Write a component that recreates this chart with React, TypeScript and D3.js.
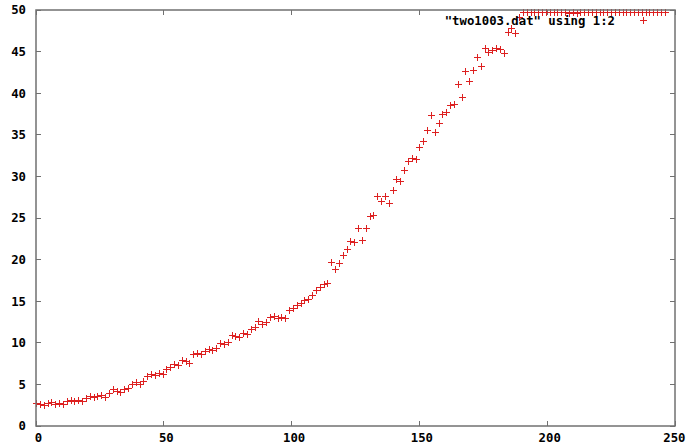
import React from "react";
import * as d3 from "d3";

const WIDTH = 686;
const HEIGHT = 446;

const xTicks = [0, 50, 100, 150, 200, 250];
const yTicks = [0, 5, 10, 15, 20, 25, 30, 35, 40, 45, 50];
const legendLabel = '"two1003.dat" using 1:2';

// column 1 of two1003.dat
const xs = [
  0, 1.5, 3, 4.5, 6, 7.5, 9, 10.5, 12, 13.5, 15, 16.5, 18, 19.5, 21, 22.5, 24, 25.5, 27, 28.5,
  30, 31.5, 33, 34.5, 36, 37.5, 39, 40.5, 42, 43.5, 45, 46.5, 48, 49.5, 51, 52.5, 54, 55.5, 57, 58.5,
  60, 61.5, 63, 64.5, 66, 67.5, 69, 70.5, 72, 73.5, 75, 76.5, 78, 79.5, 81, 82.5, 84, 85.5, 87, 88.5,
  90, 91.5, 93, 94.5, 96, 97.5, 99, 100.5, 102, 103.5, 105, 106.5, 108, 109.5, 111, 112.5, 114, 115.5, 117, 118.5,
  120, 121.5, 123, 124.5, 126, 127.5, 129, 130.5, 132, 133.5, 135, 136.5, 138, 139.5, 141, 142.5, 144, 145.5, 147, 148.5,
  150, 151.5, 153, 154.5, 156, 157.5, 159, 160.5, 162, 163.5, 165, 166.5, 168, 169.5, 171, 172.5, 174, 175.5, 177, 178.5,
  180, 181.5, 183, 184.5, 186, 187.5, 189, 190.5, 192, 193.5, 195, 196.5, 198, 199.5, 201, 202.5, 204, 205.5, 207, 208.5,
  210, 211.5, 213, 214.5, 216, 217.5, 219, 220.5, 222, 223.5, 225, 226.5, 228, 229.5, 231, 232.5, 234, 235.5, 237, 238.5,
  240, 241.5, 243, 244.5, 246, 247.5, 249,
];

// column 2 of two1003.dat
const ys = [
  2.8, 2.7, 2.5, 2.8, 2.9, 2.7, 2.8, 2.7, 3.0, 3.1, 3.0, 3.1, 3.0, 3.4, 3.6, 3.5, 3.6, 3.7, 3.5, 4.0,
  4.4, 4.2, 4.1, 4.4, 4.6, 5.1, 5.3, 5.1, 5.4, 6.0, 6.3, 6.1, 6.4, 6.2, 6.8, 7.1, 7.4, 7.3, 7.9, 7.8,
  7.6, 8.7, 8.8, 8.7, 9.0, 9.2, 9.1, 9.4, 10.0, 9.8, 10.1, 10.9, 10.8, 10.7, 11.2, 11.1, 11.6, 11.9, 12.6, 12.3,
  12.5, 13.1, 13.2, 13.0, 13.1, 13.0, 13.9, 14.2, 14.6, 14.8, 15.1, 15.3, 15.8, 16.3, 16.7, 17.1, 17.2, 19.7, 18.9, 19.6,
  20.6, 21.3, 22.2, 22.1, 23.8, 22.4, 23.8, 25.3, 25.4, 27.6, 27.0, 27.7, 26.8, 28.4, 29.7, 29.5, 30.8, 31.8, 32.2, 32.1,
  33.5, 34.3, 35.6, 37.4, 35.3, 36.4, 37.5, 37.8, 38.6, 38.7, 41.1, 39.6, 42.7, 41.5, 42.8, 44.4, 43.3, 45.4, 45.0, 45.2,
  45.4, 45.3, 44.8, 47.4, 47.8, 47.2, 49.2, 49.7, 49.8, 49.7, 49.8, 49.8, 49.7, 49.8, 49.8, 49.7, 49.8, 49.8,
  49.7, 49.6, 49.7, 49.6, 49.7, 49.8, 49.7, 49.8, 49.7, 49.8, 49.8, 49.7, 49.8, 49.7, 49.8, 49.8, 49.7, 49.8, 49.7, 49.8,
  49.8, 49.7, 49.8, 49.7, 49.8, 49.7, 49.8,
];

const BORDER = "#707070";
const POINT = "#dd2020";
const FONT = "'DejaVu Sans Mono', 'Liberation Mono', monospace";
const FONT_SIZE = 12.3;

const plusPath = (cx: number, cy: number, r = 3.5) => {
  const px = Math.round(cx) + 0.5;
  const py = Math.round(cy) + 0.5;
  return `M${px - r},${py}H${px + r}M${px},${py - r}V${py + r}`;
};

export default function App() {
  const x = d3.scaleLinear().domain([0, 250]).range([36, 675]);
  const y = d3.scaleLinear().domain([0, 50]).range([426, 10]);
  const tick = 5;

  const left = x(0);
  const right = x(250);
  const top = y(50);
  const bottom = y(0);

  // keep the last x label inside the canvas
  const xLabelPos = (t: number) => {
    const half = (String(t).length * FONT_SIZE * 0.602) / 2;
    return Math.min(x(t) + 2.5, WIDTH - half - 0.5);
  };

  return (
    <svg
      width={WIDTH}
      height={HEIGHT}
      viewBox={`0 0 ${WIDTH} ${HEIGHT}`}
      style={{ position: "absolute", left: 0, top: 0, background: "#fff" }}
    >
      <rect width={WIDTH} height={HEIGHT} fill="#fff" />

      {/* ticks, mirrored on all four sides */}
      <g stroke={BORDER} strokeWidth={1} shapeRendering="crispEdges">
        {yTicks.map((t) => (
          <g key={`y${t}`}>
            <line x1={left} x2={left + tick} y1={y(t)} y2={y(t)} />
            <line x1={right - tick} x2={right} y1={y(t)} y2={y(t)} />
          </g>
        ))}
        {xTicks.map((t) => (
          <g key={`x${t}`}>
            <line x1={x(t)} x2={x(t)} y1={bottom} y2={bottom - tick} />
            <line x1={x(t)} x2={x(t)} y1={top} y2={top + tick} />
          </g>
        ))}
      </g>

      {/* data points */}
      <g stroke={POINT} strokeWidth={1} fill="none" shapeRendering="crispEdges">
        {xs.map((xv, i) => (
          <path key={i} d={plusPath(x(xv), y(ys[i]))} />
        ))}
      </g>

      {/* border */}
      <rect
        x={left}
        y={top}
        width={right - left}
        height={bottom - top}
        fill="none"
        stroke={BORDER}
        strokeWidth={1.5}
      />

      {/* tick labels */}
      <g fontFamily={FONT} fontWeight="bold" fontSize={FONT_SIZE} fill="#000">
        {yTicks.map((t) => (
          <text key={`yl${t}`} x={26} y={y(t)} dy="0.36em" textAnchor="end">
            {t}
          </text>
        ))}
        {xTicks.map((t) => (
          <text key={`xl${t}`} x={xLabelPos(t)} y={bottom + 12} dy="0.36em" textAnchor="middle">
            {t}
          </text>
        ))}
      </g>

      {/* key */}
      <text
        x={615}
        y={21}
        dy="0.36em"
        textAnchor="end"
        fontFamily={FONT}
        fontWeight="bold"
        fontSize={FONT_SIZE}
        fill="#000"
      >
        {legendLabel}
      </text>
      <path
        d={plusPath(643, 20)}
        stroke={POINT}
        strokeWidth={1}
        fill="none"
        shapeRendering="crispEdges"
      />
    </svg>
  );
}
